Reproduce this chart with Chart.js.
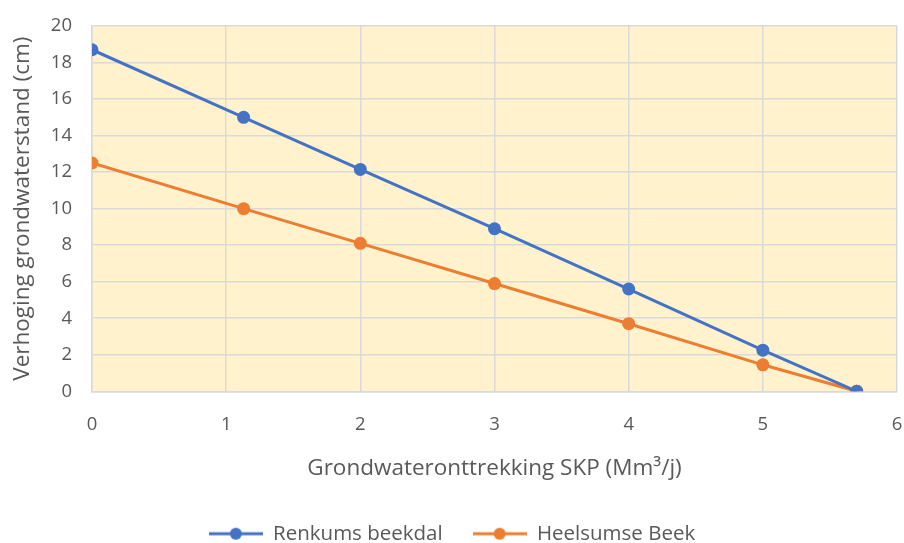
<!DOCTYPE html>
<html><head><meta charset="utf-8">
<script src="https://cdn.jsdelivr.net/npm/chart.js@4/dist/chart.umd.min.js"></script>
<style>html,body{margin:0;padding:0;background:#fff}#wrap{width:904px;height:543px}</style>
</head><body><div id="wrap"><canvas id="c" width="904" height="543"></canvas></div>
<script>
const xValues = [0, 1.13, 2, 3, 4, 5, 5.7];
const renkums = [18.7, 15.0, 12.15, 8.9, 5.6, 2.25, 0];
const heelsumse = [12.5, 10.0, 8.1, 5.9, 3.7, 1.45, 0];
const seriesNames = ['Renkums beekdal', 'Heelsumse Beek'];
const xTitle = 'Grondwateronttrekking SKP (Mm³/j)';
const yTitle = 'Verhoging grondwaterstand (cm)';
const BLUE = '#4472C4', ORANGE = '#ED7D31', TXT = '#595959', GRID = '#D9D9D9';
const FONT = "'Open Sans', 'Noto Sans', sans-serif";

function legendIcon(color){
  const c = document.createElement('canvas'); c.width = 54; c.height = 14;
  const g = c.getContext('2d');
  g.strokeStyle = color; g.lineWidth = 3; g.beginPath(); g.moveTo(0,7); g.lineTo(54,7); g.stroke();
  g.fillStyle = color; g.beginPath(); g.arc(27,7,6,0,Math.PI*2); g.fill();
  return c;
}
const icons = [legendIcon(BLUE), legendIcon(ORANGE)];

const bgPlugin = {
  id: 'bg',
  beforeDraw(chart){
    const {ctx, chartArea:a} = chart;
    ctx.save(); ctx.fillStyle = '#FFF2CC'; ctx.fillRect(a.left, a.top, a.right-a.left, a.bottom-a.top); ctx.restore();
  }
};

function toPts(ys){ return xValues.map((x,i)=>({x:x, y:ys[i]})); }

new Chart(document.getElementById('c'), {
  type: 'line',
  data: { datasets: [
    { label: seriesNames[0], data: toPts(renkums), borderColor: BLUE, backgroundColor: BLUE, borderWidth: 3, pointRadius: 6.5, pointHoverRadius: 6.5, pointBorderWidth: 0 },
    { label: seriesNames[1], data: toPts(heelsumse), borderColor: ORANGE, backgroundColor: ORANGE, borderWidth: 3, pointRadius: 6.5, pointHoverRadius: 6.5, pointBorderWidth: 0 }
  ]},
  options: {
    responsive: false, animation: false, devicePixelRatio: 1,
    layout: { padding: { left: 7, right: 7, top: 26, bottom: -11 } },
    plugins: {
      tooltip: { enabled: false },
      legend: {
        position: 'bottom',
        labels: {
          font: { family: FONT, size: 20.5 }, color: TXT, padding: 30,
          usePointStyle: true, pointStyleWidth: 54,
          generateLabels(chart){
            return chart.data.datasets.map((d,i)=>({ text: d.label, pointStyle: icons[i], fillStyle: d.borderColor, strokeStyle: d.borderColor, lineWidth: 0, datasetIndex: i, fontColor: TXT }));
          }
        }
      }
    },
    scales: {
      x: {
        type: 'linear', min: 0, max: 6,
        afterFit(s){ s.paddingRight = 0; s.paddingLeft = 0; },
        ticks: { stepSize: 1, font: { family: FONT, size: 18.5 }, color: TXT, padding: 22 },
        grid: { color: GRID, lineWidth: 1.5, drawTicks: false },
        border: { color: GRID, width: 1.5 },
        title: { display: true, text: xTitle, font: { family: FONT, size: 22.5 }, color: TXT, padding: { top: -2, bottom: 11 } }
      },
      y: {
        min: 0, max: 20,
        afterFit(s){ s.width = 85; s.paddingTop = 0; s.paddingBottom = 0; },
        ticks: { stepSize: 2, font: { family: FONT, size: 18.5 }, color: TXT, padding: 20 },
        grid: { color: GRID, lineWidth: 1.5, drawTicks: false },
        border: { color: GRID, width: 1.5 },
        title: { display: true, text: yTitle, font: { family: FONT, size: 22.5 }, color: TXT, padding: { top: 2, bottom: 6 } }
      }
    }
  },
  plugins: [bgPlugin]
});
</script></body></html>
